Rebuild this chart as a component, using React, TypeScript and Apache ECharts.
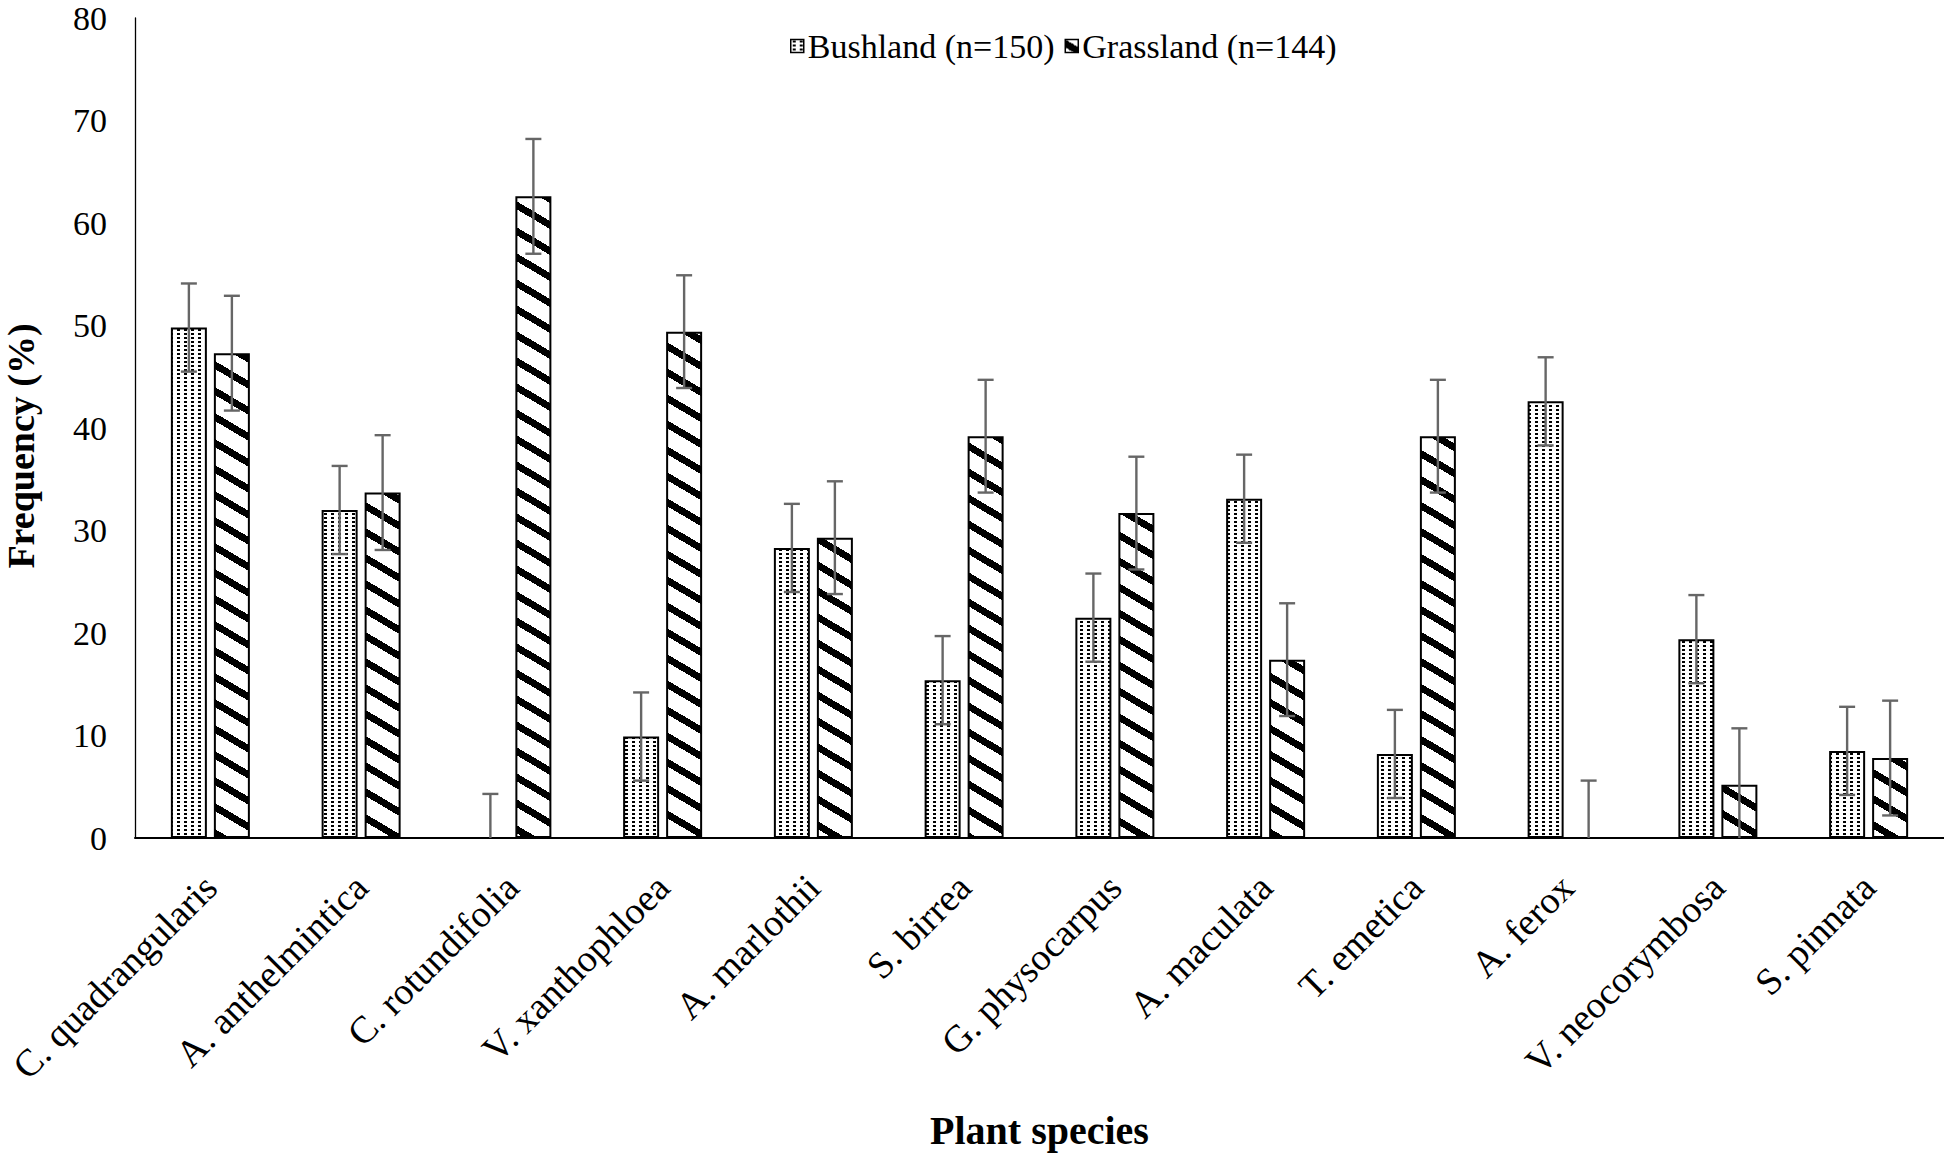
import React, { useEffect, useRef } from "react";
import * as echarts from "echarts";

const categories = [
  "C. quadrangularis",
  "A. anthelmintica",
  "C. rotundifolia",
  "V. xanthophloea",
  "A. marlothii",
  "S. birrea",
  "G. physocarpus",
  "A. maculata",
  "T. emetica",
  "A. ferox",
  "V. neocorymbosa",
  "S. pinnata",
];
const seriesNames = ["Bushland (n=150)", "Grassland (n=144)"];
const bushland = [49.8, 32.0, 0, 9.9, 28.3, 15.4, 21.5, 33.1, 8.2, 42.6, 19.4, 8.5];
const bushlandErr = [4.3, 4.3, 4.3, 4.3, 4.3, 4.3, 4.3, 4.3, 4.3, 4.3, 4.3, 4.3];
const grassland = [47.3, 33.7, 62.6, 49.4, 29.3, 39.2, 31.7, 17.4, 39.2, 0, 5.2, 7.8];
const grasslandErr = [5.6, 5.6, 5.6, 5.5, 5.5, 5.5, 5.5, 5.5, 5.5, 5.6, 5.5, 5.6];
const yMin = 0;
const yMax = 80;
const yInterval = 10;

const FONT = "'Liberation Serif', 'Times New Roman', serif";
const BAR_W = 36;
const BAR_GAP = 7;
const CAP = 8;
const ERR_COLOR = "#666666";

function dotPattern() {
  const c = document.createElement("canvas");
  c.width = 7;
  c.height = 4;
  const ctx = c.getContext("2d")!;
  ctx.fillStyle = "#ffffff";
  ctx.fillRect(0, 0, 7, 4);
  ctx.fillStyle = "#000000";
  ctx.fillRect(2, 1, 3, 2);
  return { image: c.toDataURL(), repeat: "repeat", imageWidth: 7, imageHeight: 4 };
}

function stripePattern() {
  const W = 44;
  const H = 26;
  const T = 8;
  const c = document.createElement("canvas");
  c.width = W;
  c.height = H;
  const ctx = c.getContext("2d")!;
  const img = ctx.createImageData(W, H);
  for (let y = 0; y < H; y++) {
    for (let x = 0; x < W; x++) {
      let v = (y + 0.5 - ((x + 0.5) * H) / W) % H;
      if (v < 0) v += H;
      const black = v < T;
      const k = (y * W + x) * 4;
      const g = black ? 0 : 255;
      img.data[k] = g;
      img.data[k + 1] = g;
      img.data[k + 2] = g;
      img.data[k + 3] = 255;
    }
  }
  ctx.putImageData(img, 0, 0);
  return { image: c.toDataURL(), repeat: "repeat", imageWidth: W, imageHeight: H };
}

function errSeries(vals: number[], errs: number[], sign: number, name: string) {
  return {
    type: "custom",
    name,
    data: vals.map((v, i) => [i, v - errs[i], v + errs[i]]),
    encode: { x: 0, y: [1, 2] },
    z: 10,
    silent: true,
    renderItem: (params: any, api: any) => {
      const i = api.value(0);
      const rawLow = api.value(1);
      const low = Math.max(0, rawLow);
      const high = api.value(2);
      const off = (sign * (BAR_W + BAR_GAP)) / 2;
      const pHigh = api.coord([i, high]);
      const pLow = api.coord([i, low]);
      const x = pHigh[0] + off;
      const style = { stroke: ERR_COLOR, lineWidth: 2.4 };
      const children: any[] = [
        { type: "line", shape: { x1: x, y1: pLow[1], x2: x, y2: pHigh[1] }, style },
        { type: "line", shape: { x1: x - CAP, y1: pHigh[1], x2: x + CAP, y2: pHigh[1] }, style },
      ];
      if (rawLow >= 0) {
        children.push({ type: "line", shape: { x1: x - CAP, y1: pLow[1], x2: x + CAP, y2: pLow[1] }, style });
      }
      return { type: "group", children };
    },
  };
}

export default function App() {
  const ref = useRef<HTMLDivElement>(null);
  useEffect(() => {
    if (!ref.current) return;
    const chart = echarts.init(ref.current, null, { renderer: "svg" });
    const dots = dotPattern();
    const stripes = stripePattern();
    const option: any = {
      animation: false,
      backgroundColor: "#ffffff",
      textStyle: { fontFamily: FONT, color: "#000" },
      legend: {
        data: seriesNames,
        left: 785,
        top: 24,
        itemWidth: 13,
        itemHeight: 13,
        itemGap: 10,
        icon: "rect",
        itemStyle: { borderColor: "#000", borderWidth: 1.5 },
        textStyle: { fontFamily: FONT, fontSize: 34, color: "#000", padding: [0, 0, 0, -1] },
      },
      grid: {
        left: 135,
        right: 0,
        top: 18,
        bottom: 317,
        containLabel: false,
        outerBoundsMode: "none",
      },
      xAxis: {
        type: "category",
        data: categories,
        name: "Plant species",
        nameLocation: "middle",
        nameGap: 272,
        nameTextStyle: { fontFamily: FONT, fontSize: 40, fontWeight: "bold", color: "#000" },
        axisLine: { show: true, lineStyle: { color: "#000", width: 2 } },
        axisTick: { show: false },
        axisLabel: {
          rotate: 45,
          interval: 0,
          margin: 43,
          fontFamily: FONT,
          fontSize: 38,
          color: "#000",
        },
      },
      yAxis: {
        type: "value",
        min: yMin,
        max: yMax,
        interval: yInterval,
        name: "Frequency (%)",
        nameLocation: "middle",
        nameGap: 95,
        nameTextStyle: {
          fontFamily: FONT,
          fontSize: 38,
          fontWeight: "bold",
          color: "#000",
          padding: [0, 36, 0, 0],
        },
        axisLine: { show: true, lineStyle: { color: "#000", width: 1.3 } },
        axisTick: { show: false },
        splitLine: { show: false },
        axisLabel: { fontFamily: FONT, fontSize: 34, color: "#000", margin: 28 },
      },
      series: [
        {
          type: "bar",
          name: seriesNames[0],
          data: bushland,
          barWidth: BAR_W,
          barGap: `${(BAR_GAP / BAR_W) * 100}%`,
          itemStyle: { color: dots, borderColor: "#000", borderWidth: 2 },
        },
        {
          type: "bar",
          name: seriesNames[1],
          data: grassland,
          barWidth: BAR_W,
          barGap: `${(BAR_GAP / BAR_W) * 100}%`,
          itemStyle: { color: stripes, borderColor: "#000", borderWidth: 2 },
        },
        errSeries(bushland, bushlandErr, -1, "Bushland error"),
        errSeries(grassland, grasslandErr, 1, "Grassland error"),
      ],
    };
    chart.setOption(option);
    return () => chart.dispose();
  }, []);
  return (
    <div
      ref={ref}
      style={{ position: "fixed", left: 0, top: 0, width: 1944, height: 1155, background: "#fff" }}
    />
  );
}
